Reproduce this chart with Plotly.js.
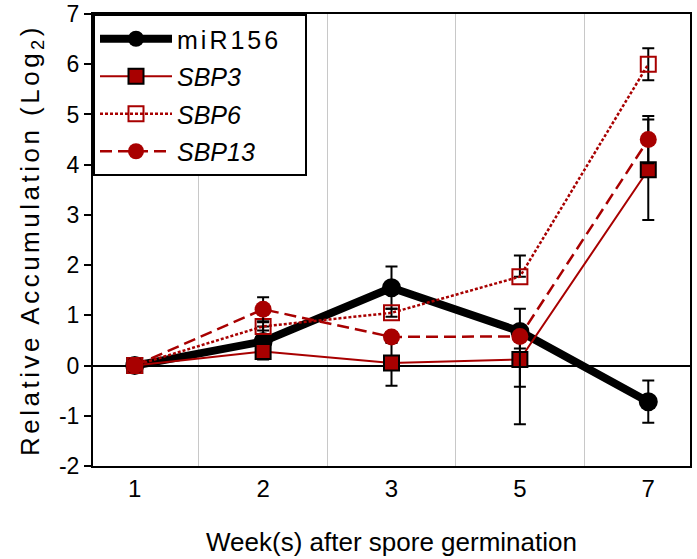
<!DOCTYPE html>
<html>
<head>
<meta charset="utf-8">
<script src="https://cdn.plot.ly/plotly-3.0.1.min.js"></script>
<style>html,body{margin:0;padding:0;background:#fff;}</style>
</head>
<body>
<div id="chart" style="width:697px;height:559px;"></div>
<script>
// Categories (weeks after spore germination)
const weeks = ["1", "2", "3", "5", "7"];

// Y tick values and labels
const yTickVals = [-2, -1, 0, 1, 2, 3, 4, 5, 6, 7];
const yTickText = ["-2", "-1", "0", "1", "2", "3", "4", "5", "6", "7"];

// Series values (Log2 relative accumulation)
const mir156 = [0, 0.48, 1.55, 0.68, -0.72];
const mir156ErrPlus = [0.15, 0.3, 0.42, 0.45, 0.42];
const mir156ErrMinus = [0.15, 0.3, 0.42, 0.34, 0.42];

const sbp3 = [0, 0.28, 0.05, 0.12, 3.9];
const sbp3ErrPlus = [0.12, 0.1, 0.4, 0, 1.0];
const sbp3ErrMinus = [0.12, 0.16, 0.45, 1.29, 1.0];

const sbp6 = [0, 0.78, 1.05, 1.77, 6.0];
const sbp6ErrPlus = [0.1, 0.08, 0.08, 0.42, 0.32];
const sbp6ErrMinus = [0.1, 0.08, 0.08, 0, 0.32];

const sbp13 = [0, 1.12, 0.57, 0.58, 4.5];
const sbp13ErrPlus = [0.12, 0.24, 0.1, 0, 0.47];
const sbp13ErrMinus = [0.12, 0.24, 0.1, 1.0, 0.47];

const seriesNames = ["miR156", "<i>SBP3</i>", "<i>SBP6</i>", "<i>SBP13</i>"];

const RED = "#a80000";
const FONT = "Liberation Sans, Arial, sans-serif";

function err(plus, minus) {
  return {type: "data", symmetric: false, array: plus, arrayminus: minus,
          color: "#000", thickness: 2, width: 6};
}

const traces = [
  {x: weeks, y: mir156, name: seriesNames[0], mode: "lines+markers", legendgroup: "a",
   line: {color: "#000", width: 8},
   marker: {symbol: "circle", size: 19, color: "#000"},
   error_y: err(mir156ErrPlus, mir156ErrMinus)},
  {x: weeks, y: sbp3, name: seriesNames[1], mode: "lines+markers", legendgroup: "b",
   line: {color: RED, width: 2},
   marker: {symbol: "square", size: 15, color: RED, line: {color: "#000", width: 2}},
   error_y: err(sbp3ErrPlus, sbp3ErrMinus)},
  {x: weeks, y: sbp6, name: seriesNames[2], mode: "lines+markers", legendgroup: "c",
   line: {color: RED, width: 2.5, dash: "3px,2px"},
   marker: {symbol: "square-open", size: 15, color: RED, line: {color: RED, width: 2}},
   error_y: err(sbp6ErrPlus, sbp6ErrMinus)},
  {x: weeks, y: sbp13, name: seriesNames[3], mode: "lines+markers", legendgroup: "d",
   line: {color: RED, width: 2.5, dash: "12px,6px"},
   marker: {symbol: "circle", size: 17, color: RED},
   error_y: err(sbp13ErrPlus, sbp13ErrMinus)}
];

const layout = {
  width: 697, height: 559,
  margin: {l: 93, r: 7, t: 14, b: 93},
  paper_bgcolor: "#fff", plot_bgcolor: "#fff",
  font: {family: FONT, size: 24, color: "#000"},
  showlegend: true,
  legend: {x: 0, y: 1, xanchor: "left", yanchor: "top",
           bgcolor: "#fff", bordercolor: "#000", borderwidth: 2,
           font: {family: FONT, size: 25, color: "#000"},
           itemwidth: 72, tracegroupgap: 2},
  xaxis: {
    type: "category", tickson: "boundaries",
    showgrid: true, gridcolor: "#c8c8c8", gridwidth: 1,
    ticks: "", showline: true, linecolor: "#000", linewidth: 2, mirror: true,
    tickfont: {family: FONT, size: 24},
    title: {text: "Week(s) after spore germination", font: {family: FONT, size: 26}, standoff: 32},
    zeroline: false
  },
  yaxis: {
    range: [-2, 7], tickmode: "array", tickvals: yTickVals, ticktext: yTickText,
    ticklabeloverflow: "allow",
    showgrid: false, zeroline: true, zerolinecolor: "#000", zerolinewidth: 2,
    ticks: "outside", ticklen: 7, tickwidth: 2, tickcolor: "#000",
    showline: true, linecolor: "#000", linewidth: 2, mirror: true,
    tickfont: {family: FONT, size: 23},
    title: {text: "Relative Accumulation (Log<sub>2</sub>)", font: {family: FONT, size: 26}, standoff: 12}
  }
};

Plotly.newPlot("chart", traces, layout, {displayModeBar: false, staticPlot: true}).then(function () {
  document.querySelectorAll(".ytitle").forEach(function (e) { e.style.letterSpacing = "3.5px"; });
  const lt = document.querySelector(".legend .traces .legendtext");
  if (lt) lt.style.letterSpacing = "3px";
  // widen the legend box so the letter-spaced entry fits, as in the reference
  const W = 212;
  const bg = document.querySelector(".legend .bg");
  if (bg) bg.setAttribute("width", W);
  document.querySelectorAll("clipPath[id^='legend'] rect").forEach(function (r) {
    r.setAttribute("width", W);
  });
});
</script>
</body>
</html>
